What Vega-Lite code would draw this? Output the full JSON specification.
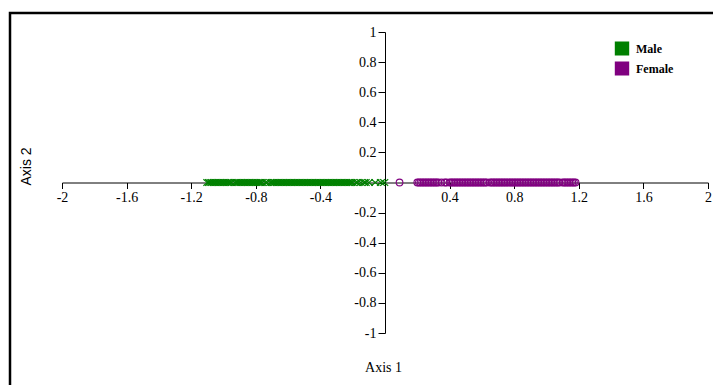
{
  "$schema": "https://vega.github.io/schema/vega-lite/v6.json",
  "autosize": {"type": "none"},
  "padding": {"left": 10, "top": 13, "right": 0, "bottom": 0},
  "width": 720,
  "height": 380,
  "background": "white",
  "config": {
    "view": {"stroke": "black", "strokeWidth": 2.5},
    "axis": {"grid": false}
  },
  "data": {
    "values": [
      {"gender": "Male", "a1": -1.1, "a2": 0}, {"gender": "Male", "a1": -1.09, "a2": 0}, {"gender": "Male", "a1": -1.08, "a2": 0},
      {"gender": "Male", "a1": -1.07, "a2": 0}, {"gender": "Male", "a1": -1.06, "a2": 0}, {"gender": "Male", "a1": -1.05, "a2": 0},
      {"gender": "Male", "a1": -1.04, "a2": 0}, {"gender": "Male", "a1": -1.03, "a2": 0}, {"gender": "Male", "a1": -1.02, "a2": 0},
      {"gender": "Male", "a1": -1.01, "a2": 0}, {"gender": "Male", "a1": -1.0, "a2": 0}, {"gender": "Male", "a1": -0.99, "a2": 0},
      {"gender": "Male", "a1": -0.98, "a2": 0}, {"gender": "Male", "a1": -0.97, "a2": 0}, {"gender": "Male", "a1": -0.96, "a2": 0},
      {"gender": "Male", "a1": -0.95, "a2": 0}, {"gender": "Male", "a1": -0.93, "a2": 0}, {"gender": "Male", "a1": -0.92, "a2": 0},
      {"gender": "Male", "a1": -0.91, "a2": 0}, {"gender": "Male", "a1": -0.9, "a2": 0}, {"gender": "Male", "a1": -0.89, "a2": 0},
      {"gender": "Male", "a1": -0.88, "a2": 0}, {"gender": "Male", "a1": -0.87, "a2": 0}, {"gender": "Male", "a1": -0.86, "a2": 0},
      {"gender": "Male", "a1": -0.85, "a2": 0}, {"gender": "Male", "a1": -0.84, "a2": 0}, {"gender": "Male", "a1": -0.83, "a2": 0},
      {"gender": "Male", "a1": -0.82, "a2": 0}, {"gender": "Male", "a1": -0.81, "a2": 0}, {"gender": "Male", "a1": -0.8, "a2": 0},
      {"gender": "Male", "a1": -0.79, "a2": 0}, {"gender": "Male", "a1": -0.78, "a2": 0}, {"gender": "Male", "a1": -0.77, "a2": 0},
      {"gender": "Male", "a1": -0.76, "a2": 0}, {"gender": "Male", "a1": -0.74, "a2": 0}, {"gender": "Male", "a1": -0.73, "a2": 0},
      {"gender": "Male", "a1": -0.71, "a2": 0}, {"gender": "Male", "a1": -0.7, "a2": 0}, {"gender": "Male", "a1": -0.69, "a2": 0},
      {"gender": "Male", "a1": -0.68, "a2": 0}, {"gender": "Male", "a1": -0.67, "a2": 0}, {"gender": "Male", "a1": -0.66, "a2": 0},
      {"gender": "Male", "a1": -0.65, "a2": 0}, {"gender": "Male", "a1": -0.64, "a2": 0}, {"gender": "Male", "a1": -0.63, "a2": 0},
      {"gender": "Male", "a1": -0.62, "a2": 0}, {"gender": "Male", "a1": -0.61, "a2": 0}, {"gender": "Male", "a1": -0.6, "a2": 0},
      {"gender": "Male", "a1": -0.59, "a2": 0}, {"gender": "Male", "a1": -0.58, "a2": 0}, {"gender": "Male", "a1": -0.57, "a2": 0},
      {"gender": "Male", "a1": -0.56, "a2": 0}, {"gender": "Male", "a1": -0.55, "a2": 0}, {"gender": "Male", "a1": -0.54, "a2": 0},
      {"gender": "Male", "a1": -0.53, "a2": 0}, {"gender": "Male", "a1": -0.52, "a2": 0}, {"gender": "Male", "a1": -0.51, "a2": 0},
      {"gender": "Male", "a1": -0.5, "a2": 0}, {"gender": "Male", "a1": -0.49, "a2": 0}, {"gender": "Male", "a1": -0.48, "a2": 0},
      {"gender": "Male", "a1": -0.47, "a2": 0}, {"gender": "Male", "a1": -0.46, "a2": 0}, {"gender": "Male", "a1": -0.45, "a2": 0},
      {"gender": "Male", "a1": -0.44, "a2": 0}, {"gender": "Male", "a1": -0.43, "a2": 0}, {"gender": "Male", "a1": -0.42, "a2": 0},
      {"gender": "Male", "a1": -0.41, "a2": 0}, {"gender": "Male", "a1": -0.4, "a2": 0}, {"gender": "Male", "a1": -0.39, "a2": 0},
      {"gender": "Male", "a1": -0.38, "a2": 0}, {"gender": "Male", "a1": -0.37, "a2": 0}, {"gender": "Male", "a1": -0.36, "a2": 0},
      {"gender": "Male", "a1": -0.35, "a2": 0}, {"gender": "Male", "a1": -0.34, "a2": 0}, {"gender": "Male", "a1": -0.33, "a2": 0},
      {"gender": "Male", "a1": -0.32, "a2": 0}, {"gender": "Male", "a1": -0.31, "a2": 0}, {"gender": "Male", "a1": -0.3, "a2": 0},
      {"gender": "Male", "a1": -0.29, "a2": 0}, {"gender": "Male", "a1": -0.28, "a2": 0}, {"gender": "Male", "a1": -0.27, "a2": 0},
      {"gender": "Male", "a1": -0.26, "a2": 0}, {"gender": "Male", "a1": -0.25, "a2": 0}, {"gender": "Male", "a1": -0.24, "a2": 0},
      {"gender": "Male", "a1": -0.23, "a2": 0}, {"gender": "Male", "a1": -0.22, "a2": 0}, {"gender": "Male", "a1": -0.21, "a2": 0},
      {"gender": "Male", "a1": -0.2, "a2": 0}, {"gender": "Male", "a1": -0.18, "a2": 0}, {"gender": "Male", "a1": -0.17, "a2": 0},
      {"gender": "Male", "a1": -0.15, "a2": 0}, {"gender": "Male", "a1": -0.13, "a2": 0}, {"gender": "Male", "a1": -0.12, "a2": 0},
      {"gender": "Male", "a1": -0.1, "a2": 0}, {"gender": "Male", "a1": -0.06, "a2": 0}, {"gender": "Male", "a1": -0.025, "a2": 0},
      {"gender": "Male", "a1": -0.005, "a2": 0},
      {"gender": "Female", "a1": 0.09, "a2": 0}, {"gender": "Female", "a1": 0.2, "a2": 0}, {"gender": "Female", "a1": 0.21, "a2": 0},
      {"gender": "Female", "a1": 0.22, "a2": 0}, {"gender": "Female", "a1": 0.23, "a2": 0}, {"gender": "Female", "a1": 0.24, "a2": 0},
      {"gender": "Female", "a1": 0.25, "a2": 0}, {"gender": "Female", "a1": 0.26, "a2": 0}, {"gender": "Female", "a1": 0.27, "a2": 0},
      {"gender": "Female", "a1": 0.28, "a2": 0}, {"gender": "Female", "a1": 0.29, "a2": 0}, {"gender": "Female", "a1": 0.3, "a2": 0},
      {"gender": "Female", "a1": 0.31, "a2": 0}, {"gender": "Female", "a1": 0.32, "a2": 0}, {"gender": "Female", "a1": 0.33, "a2": 0},
      {"gender": "Female", "a1": 0.35, "a2": 0}, {"gender": "Female", "a1": 0.37, "a2": 0}, {"gender": "Female", "a1": 0.38, "a2": 0},
      {"gender": "Female", "a1": 0.4, "a2": 0}, {"gender": "Female", "a1": 0.41, "a2": 0}, {"gender": "Female", "a1": 0.42, "a2": 0},
      {"gender": "Female", "a1": 0.43, "a2": 0}, {"gender": "Female", "a1": 0.44, "a2": 0}, {"gender": "Female", "a1": 0.45, "a2": 0},
      {"gender": "Female", "a1": 0.46, "a2": 0}, {"gender": "Female", "a1": 0.47, "a2": 0}, {"gender": "Female", "a1": 0.48, "a2": 0},
      {"gender": "Female", "a1": 0.49, "a2": 0}, {"gender": "Female", "a1": 0.5, "a2": 0}, {"gender": "Female", "a1": 0.51, "a2": 0},
      {"gender": "Female", "a1": 0.52, "a2": 0}, {"gender": "Female", "a1": 0.53, "a2": 0}, {"gender": "Female", "a1": 0.54, "a2": 0},
      {"gender": "Female", "a1": 0.55, "a2": 0}, {"gender": "Female", "a1": 0.56, "a2": 0}, {"gender": "Female", "a1": 0.57, "a2": 0},
      {"gender": "Female", "a1": 0.58, "a2": 0}, {"gender": "Female", "a1": 0.59, "a2": 0}, {"gender": "Female", "a1": 0.6, "a2": 0},
      {"gender": "Female", "a1": 0.61, "a2": 0}, {"gender": "Female", "a1": 0.62, "a2": 0}, {"gender": "Female", "a1": 0.63, "a2": 0},
      {"gender": "Female", "a1": 0.65, "a2": 0}, {"gender": "Female", "a1": 0.66, "a2": 0}, {"gender": "Female", "a1": 0.67, "a2": 0},
      {"gender": "Female", "a1": 0.68, "a2": 0}, {"gender": "Female", "a1": 0.69, "a2": 0}, {"gender": "Female", "a1": 0.7, "a2": 0},
      {"gender": "Female", "a1": 0.71, "a2": 0}, {"gender": "Female", "a1": 0.72, "a2": 0}, {"gender": "Female", "a1": 0.73, "a2": 0},
      {"gender": "Female", "a1": 0.74, "a2": 0}, {"gender": "Female", "a1": 0.75, "a2": 0}, {"gender": "Female", "a1": 0.76, "a2": 0},
      {"gender": "Female", "a1": 0.77, "a2": 0}, {"gender": "Female", "a1": 0.78, "a2": 0}, {"gender": "Female", "a1": 0.79, "a2": 0},
      {"gender": "Female", "a1": 0.8, "a2": 0}, {"gender": "Female", "a1": 0.81, "a2": 0}, {"gender": "Female", "a1": 0.82, "a2": 0},
      {"gender": "Female", "a1": 0.83, "a2": 0}, {"gender": "Female", "a1": 0.84, "a2": 0}, {"gender": "Female", "a1": 0.85, "a2": 0},
      {"gender": "Female", "a1": 0.86, "a2": 0}, {"gender": "Female", "a1": 0.87, "a2": 0}, {"gender": "Female", "a1": 0.88, "a2": 0},
      {"gender": "Female", "a1": 0.89, "a2": 0}, {"gender": "Female", "a1": 0.9, "a2": 0}, {"gender": "Female", "a1": 0.91, "a2": 0},
      {"gender": "Female", "a1": 0.92, "a2": 0}, {"gender": "Female", "a1": 0.93, "a2": 0}, {"gender": "Female", "a1": 0.94, "a2": 0},
      {"gender": "Female", "a1": 0.95, "a2": 0}, {"gender": "Female", "a1": 0.96, "a2": 0}, {"gender": "Female", "a1": 0.97, "a2": 0},
      {"gender": "Female", "a1": 0.98, "a2": 0}, {"gender": "Female", "a1": 0.99, "a2": 0}, {"gender": "Female", "a1": 1.0, "a2": 0},
      {"gender": "Female", "a1": 1.01, "a2": 0}, {"gender": "Female", "a1": 1.02, "a2": 0}, {"gender": "Female", "a1": 1.03, "a2": 0},
      {"gender": "Female", "a1": 1.04, "a2": 0}, {"gender": "Female", "a1": 1.05, "a2": 0}, {"gender": "Female", "a1": 1.06, "a2": 0},
      {"gender": "Female", "a1": 1.07, "a2": 0}, {"gender": "Female", "a1": 1.08, "a2": 0}, {"gender": "Female", "a1": 1.1, "a2": 0},
      {"gender": "Female", "a1": 1.11, "a2": 0}, {"gender": "Female", "a1": 1.12, "a2": 0}, {"gender": "Female", "a1": 1.13, "a2": 0},
      {"gender": "Female", "a1": 1.14, "a2": 0}, {"gender": "Female", "a1": 1.15, "a2": 0}, {"gender": "Female", "a1": 1.16, "a2": 0},
      {"gender": "Female", "a1": 1.17, "a2": 0}, {"gender": "Female", "a1": 1.18, "a2": 0}
    ]
  },
  "encoding": {
    "x": {
      "field": "a1",
      "type": "quantitative",
      "scale": {"domain": [-2, 2], "range": [52, 698], "nice": false, "zero": false},
      "axis": {
        "orient": "bottom",
        "offset": -210.5,
        "values": [-2, -1.6, -1.2, -0.8, -0.4, 0, 0.4, 0.8, 1.2, 1.6, 2],
        "labelExpr": "datum.value == 0 ? '' : '' + datum.value",
        "labelOverlap": false,
        "labelFlush": false,
        "domainColor": "black",
        "domainWidth": 1,
        "tickColor": "black",
        "tickWidth": 1,
        "tickSize": 6,
        "labelFont": "Liberation Serif",
        "labelFontSize": 14,
        "labelColor": "black",
        "labelPadding": 2,
        "title": "Axis 1",
        "titleFont": "Liberation Serif",
        "titleFontSize": 14,
        "titleFontWeight": "normal",
        "titleColor": "black",
        "titleX": 373,
        "titleY": 184.5,
        "titleAlign": "center",
        "titleBaseline": "middle"
      }
    },
    "y": {
      "field": "a2",
      "type": "quantitative",
      "scale": {"domain": [-1, 1], "range": [320, 19], "nice": false, "zero": false},
      "axis": {
        "orient": "left",
        "offset": -375,
        "values": [-1, -0.8, -0.6, -0.4, -0.2, 0, 0.2, 0.4, 0.6, 0.8, 1],
        "labelExpr": "datum.value == 0 ? '' : '' + datum.value",
        "labelOverlap": false,
        "labelFlush": false,
        "domainColor": "black",
        "domainWidth": 1,
        "tickColor": "black",
        "tickWidth": 1,
        "tickSize": 7,
        "labelFont": "Liberation Serif",
        "labelFontSize": 14,
        "labelColor": "black",
        "labelPadding": 2,
        "title": "Axis 2",
        "titleFont": "Liberation Sans",
        "titleFontSize": 14,
        "titleFontWeight": "normal",
        "titleColor": "black",
        "titleAngle": -90,
        "titleX": -359,
        "titleY": 153,
        "titleAlign": "center",
        "titleBaseline": "middle"
      }
    },
    "color": {
      "field": "gender",
      "type": "nominal",
      "scale": {"domain": ["Male", "Female"], "range": ["#008000", "#800080"]},
      "legend": {
        "orient": "none",
        "legendX": 605,
        "legendY": 28.5,
        "title": null,
        "padding": 0,
        "symbolType": "M-1.2,-1H1.2M-1.2,-0.75H1.2M-1.2,-0.5H1.2M-1.2,-0.25H1.2M-1.2,0H1.2M-1.2,0.25H1.2M-1.2,0.5H1.2M-1.2,0.75H1.2M-1.2,1H1.2",
        "symbolSize": 144,
        "symbolStrokeWidth": 2,
        "symbolOpacity": 1,
        "labelFont": "Liberation Serif",
        "labelFontSize": 12,
        "labelFontWeight": "bold",
        "labelColor": "black",
        "labelOffset": 7,
        "rowPadding": 0
      }
    }
  },
  "layer": [
    {
      "transform": [{"filter": "datum.gender == 'Male'"}],
      "mark": {"type": "point", "shape": "M-1,-0.8L1,0.8M-1,0.8L1,-0.8", "filled": false, "size": 64, "strokeWidth": 1.1, "opacity": 1}
    },
    {
      "transform": [{"filter": "datum.gender == 'Female'"}],
      "mark": {"type": "point", "shape": "circle", "filled": false, "size": 45, "strokeWidth": 1.1, "opacity": 1}
    }
  ]
}
